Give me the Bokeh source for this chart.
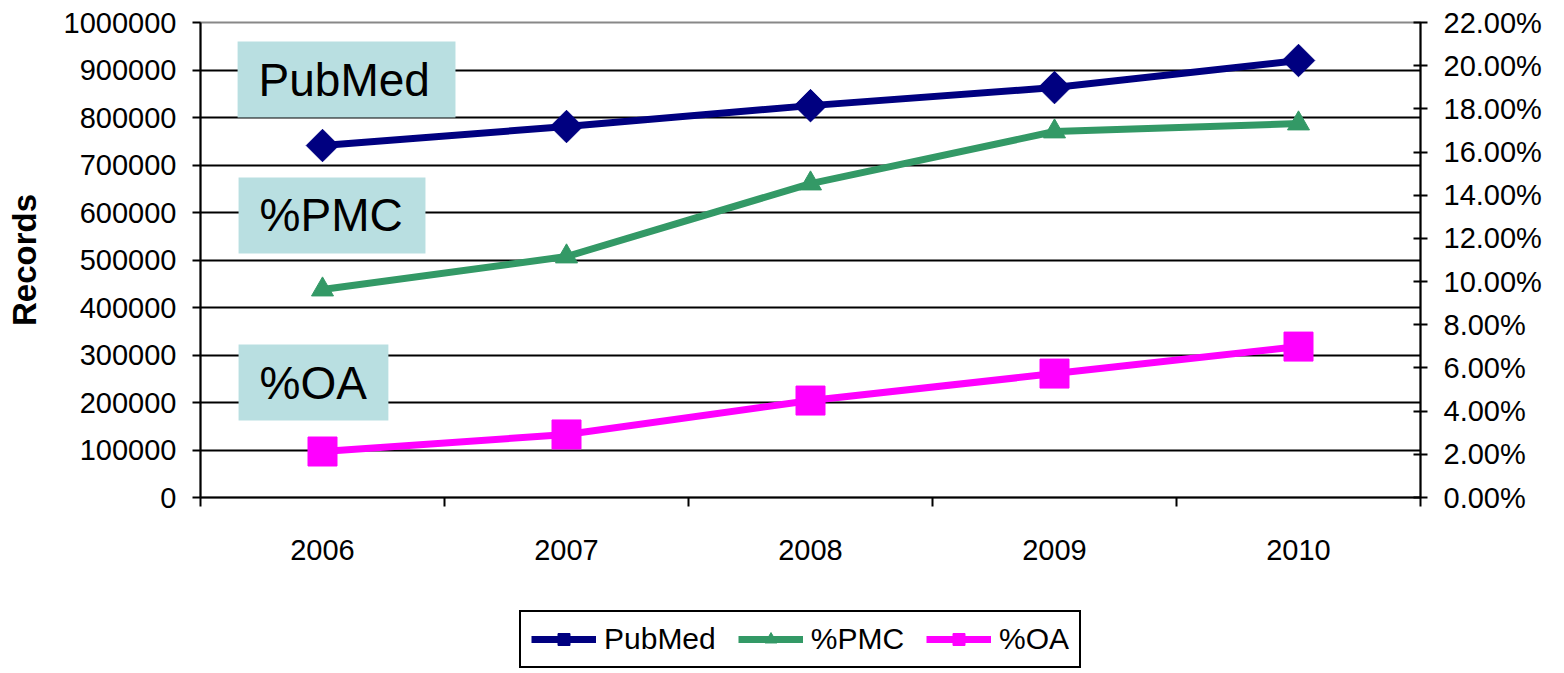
from bokeh.plotting import figure
from bokeh.layouts import column
from bokeh.models import (Range1d, LinearAxis, FixedTicker, NumeralTickFormatter,
                          Legend, LegendItem, BoxAnnotation, Label)
from bokeh.embed import file_html
from bokeh.resources import INLINE
import math

years = ["2006", "2007", "2008", "2009", "2010"]
pubmed = [741000, 781000, 825000, 863000, 920000]
pct_pmc = [0.0963, 0.1116, 0.1454, 0.1695, 0.1732]
pct_oa = [0.0213, 0.0292, 0.0449, 0.0574, 0.0699]
left_ticks = list(range(0, 1000001, 100000))
right_ticks = [i / 100 for i in range(0, 23, 2)]
series_names = ["PubMed", "%PMC", "%OA"]
series_colors = ["#000080", "#339966", "#FF00FF"]

FONT = "Liberation Sans"
x = [i + 0.5 for i in range(len(years))]
bounds = list(range(len(years) + 1))

p = figure(width=1564, height=600, output_backend="svg", toolbar_location=None,
           x_range=Range1d(0, len(years)), y_range=Range1d(0, 1000000),
           min_border_left=200, min_border_right=144, min_border_top=22,
           min_border_bottom=103)
p.extra_y_ranges = {"pct": Range1d(0, 0.22)}
p.background_fill_color = "white"
p.border_fill_color = "white"
p.outline_line_color = "#888888"
p.outline_line_width = 2

# x axis
xa = p.xaxis[0]
xa.ticker = FixedTicker(ticks=x, minor_ticks=bounds)
xa.major_label_overrides = {xi: y for xi, y in zip(x, years)}
xa.major_tick_line_color = None
xa.major_tick_out = 0
xa.major_tick_in = 0
xa.minor_tick_out = 9
xa.minor_tick_in = 0
xa.minor_tick_line_color = "black"
xa.minor_tick_line_width = 2
xa.axis_line_color = "black"
xa.axis_line_width = 2
xa.major_label_standoff = 33
xa.major_label_text_font = FONT
xa.major_label_text_font_size = "29px"
xa.major_label_text_color = "black"

# left axis
ya = p.yaxis[0]
ya.ticker = FixedTicker(ticks=left_ticks)
ya.formatter = NumeralTickFormatter(format="0")
ya.minor_tick_line_color = None
ya.major_tick_out = 8
ya.major_tick_in = 0
ya.major_tick_line_color = "black"
ya.major_tick_line_width = 2
ya.axis_line_color = "black"
ya.axis_line_width = 2
ya.major_label_standoff = 16
ya.major_label_text_font = FONT
ya.major_label_text_font_size = "29px"
ya.major_label_text_color = "black"
ya.axis_label = "Records"
ya.axis_label_text_font = FONT
ya.axis_label_text_font_style = "bold"
ya.axis_label_text_font_size = "33px"
ya.axis_label_text_color = "black"
ya.axis_label_standoff = 18

# right axis
ra = LinearAxis(y_range_name="pct", ticker=FixedTicker(ticks=right_ticks),
                formatter=NumeralTickFormatter(format="0.00%"))
ra.minor_tick_line_color = None
ra.major_tick_out = 7
ra.major_tick_in = 7
ra.major_tick_line_color = "black"
ra.major_tick_line_width = 2
ra.axis_line_color = "black"
ra.axis_line_width = 2
ra.major_label_standoff = 16
ra.major_label_text_font = FONT
ra.major_label_text_font_size = "29px"
ra.major_label_text_color = "black"
p.add_layout(ra, "right")

# grid
p.xgrid.grid_line_color = None
p.ygrid.ticker = FixedTicker(ticks=left_ticks)
p.ygrid.grid_line_color = "black"
p.ygrid.grid_line_width = 2

# text boxes
box_color = "#B9DFE1"
boxes = [("PubMed", 0.152, 1.045, 960000, 800000),
         ("%PMC", 0.156, 0.922, 673700, 513700),
         ("%OA", 0.156, 0.770, 322100, 162100)]
for txt, l, r, t, b in boxes:
    p.add_layout(BoxAnnotation(left=l, right=r, top=t, bottom=b,
                               fill_color=box_color, fill_alpha=1.0,
                               line_color=None, level="underlay"))
    p.add_layout(Label(x=l, y=(t + b) / 2, text=txt, x_offset=21,
                       text_align="left", text_baseline="middle",
                       text_font=FONT, text_font_size="46px",
                       text_color="black"))

# series
series_data = [(pubmed, "default"), (pct_pmc, "pct"), (pct_oa, "pct")]
markers = [("square", math.pi / 4, 23), ("triangle", 0, 22), ("square", 0, 29)]
for (vals, rng), col, (mk, ang, sz) in zip(series_data, series_colors, markers):
    p.line(x, vals, line_color=col, line_width=7, y_range_name=rng)
    p.scatter(x, vals, marker=mk, angle=ang, size=sz, fill_color=col,
              line_color=col, y_range_name=rng)

# legend strip below the chart (its renderers lie outside its visible ranges)
lg = figure(width=1564, height=73, output_backend="svg", toolbar_location=None,
            x_range=Range1d(-20, -19), y_range=Range1d(-20, -19),
            min_border=0, min_border_left=0, min_border_right=0,
            min_border_top=0, min_border_bottom=0)
lg.axis.visible = False
lg.grid.visible = False
lg.outline_line_color = None
lg.background_fill_color = "white"
lg.border_fill_color = "white"
items = []
for name, (vals, rng), col, (mk, ang, sz) in zip(series_names, series_data,
                                                 series_colors, markers):
    lr = lg.line(x, vals, line_color=col, line_width=7)
    sr = lg.scatter(x, vals, marker=mk, angle=ang, size=sz,
                    fill_color=col, line_color=col)
    items.append(LegendItem(label=name, renderers=[lr, sr]))

legend = Legend(items=items, orientation="horizontal", location=(319, 5),
                label_text_font=FONT, label_text_font_size="30px",
                label_text_color="black", glyph_width=65, glyph_height=30,
                label_standoff=8, spacing=22, padding=10, margin=0,
                border_line_color="black", border_line_width=2,
                border_line_alpha=1.0,
                background_fill_color="white", background_fill_alpha=1.0)
lg.add_layout(legend, "center")

layout = column(p, lg, spacing=0)
open("out.html", "w").write(file_html(layout, INLINE))
